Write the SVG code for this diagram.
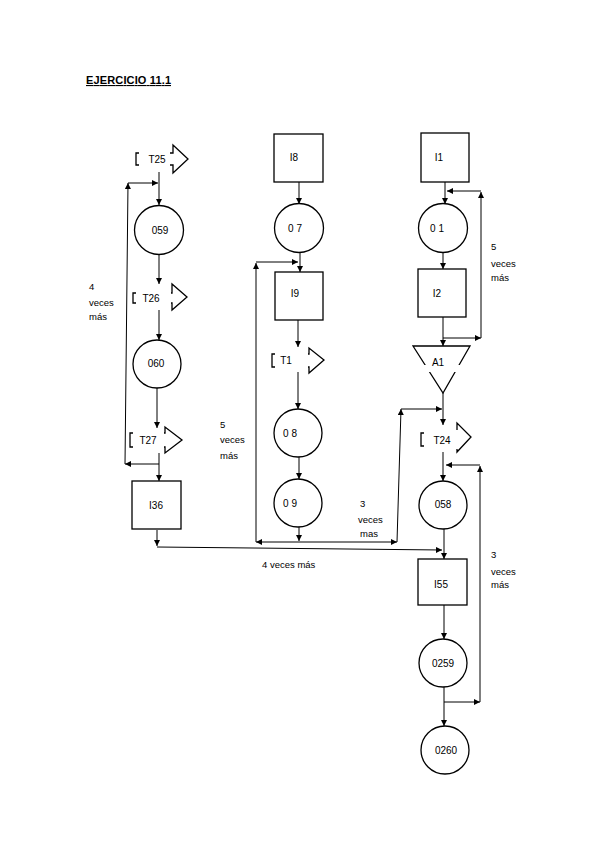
<svg xmlns="http://www.w3.org/2000/svg" width="599" height="848" viewBox="0 0 599 848">
<defs>
<marker id="ah" markerUnits="userSpaceOnUse" markerWidth="8" markerHeight="8" refX="6" refY="3" orient="auto">
<path d="M0,0 L6,3 L0,6 Z" fill="#000"/>
</marker>
<style>
.n{fill:#fff;stroke:#000;stroke-width:1.3}
.tb{fill:#fff;stroke:none}
.t{font-family:"Liberation Sans",Arial,sans-serif;font-size:10px;fill:#000;text-anchor:middle}
.l{font-family:"Liberation Sans",Arial,sans-serif;font-size:9.5px;fill:#000}
.c path{fill:none;stroke:#000;stroke-width:1;marker-end:url(#ah)}
</style>
</defs>
<rect width="599" height="848" fill="#fff"/>
<text x="86" y="84" font-family="Liberation Sans,Arial,sans-serif" font-size="11" font-weight="bold" text-decoration="underline" textLength="85">EJERCICIO 11.1</text>

<g class="c" id="connectors">
<path d="M159 172 V205"/>
<path d="M159 464 H125"/>
<path d="M125 464 L128 183"/>
<path d="M128 183 H158"/>
<path d="M159 255 V284"/>
<path d="M159 310 V340"/>
<path d="M157 388 V428"/>
<path d="M159 453 V481"/>
<path d="M157 530 V546"/>
<path d="M157 547 L442 550"/>
<path d="M299 182 V204"/>
<path d="M300 252 V272"/>
<path d="M299 542 H256"/>
<path d="M256 542 V263"/>
<path d="M256 262 H298"/>
<path d="M298 320 V347"/>
<path d="M298 372 V409"/>
<path d="M299 457 V479"/>
<path d="M299 527 V541"/>
<path d="M299 542 H397"/>
<path d="M397 542 L401 409"/>
<path d="M401 409 H442"/>
<path d="M445 182 V204"/>
<path d="M443 338 H481"/>
<path d="M481 338 V192"/>
<path d="M481 191 H447"/>
<path d="M443 252 V269"/>
<path d="M443 317 V346"/>
<path d="M443 393 V425"/>
<path d="M443 452 V481"/>
<path d="M444 702 H480"/>
<path d="M480 702 V466"/>
<path d="M480 465 H446"/>
<path d="M444 529 V559"/>
<path d="M444 605 V639"/>
<path d="M444 687 V726"/>
</g>

<g id="T25">
<polygon class="n" points="136,153 173,153 173,145 188,159 173,173 173,165 136,165"/>
<rect class="tb" x="139" y="150" width="31" height="18"/>
<text class="t" x="157" y="163">T25</text>
</g>
<g id="O59">
<circle class="n" cx="159" cy="230" r="24.5"/>
<text class="t" x="160" y="234">059</text>
</g>
<g id="T26">
<polygon class="n" points="133,293 172,293 172,284 187,297 172,310 172,303 133,303"/>
<rect class="tb" x="136" y="290" width="35" height="16"/>
<text class="t" x="151" y="302">T26</text>
</g>
<g id="O60">
<circle class="n" cx="157" cy="364" r="24"/>
<text class="t" x="156" y="367">060</text>
</g>
<g id="T27">
<polygon class="n" points="130,433 165,433 165,427 182,440 165,453 165,447 130,447"/>
<rect class="tb" x="133" y="430" width="31" height="20"/>
<text class="t" x="148" y="444">T27</text>
</g>
<g id="I36">
<rect class="n" x="132" y="481" width="49" height="48"/>
<text class="t" x="156" y="509">I36</text>
</g>

<g id="I8">
<rect class="n" x="274" y="134" width="49" height="48"/>
<text class="t" x="294" y="161">I8</text>
</g>
<g id="O7">
<circle class="n" cx="299" cy="228" r="24.5"/>
<text class="t" x="295" y="232">0 7</text>
</g>
<g id="I9">
<rect class="n" x="275" y="272" width="48" height="48"/>
<text class="t" x="295" y="297">I9</text>
</g>
<g id="T1">
<polygon class="n" points="272,354 309,354 309,348 324,360 309,373 309,367 272,367"/>
<rect class="tb" x="275" y="351" width="33" height="19"/>
<text class="t" x="286" y="364">T1</text>
</g>
<g id="O8">
<circle class="n" cx="298" cy="433" r="24"/>
<text class="t" x="290" y="437">0 8</text>
</g>
<g id="O9">
<circle class="n" cx="298" cy="503" r="24"/>
<text class="t" x="290" y="507">0 9</text>
</g>

<g id="I1">
<rect class="n" x="421" y="133" width="48" height="49"/>
<text class="t" x="439" y="161">I1</text>
</g>
<g id="O1">
<circle class="n" cx="443" cy="228" r="24.5"/>
<text class="t" x="437" y="232">0 1</text>
</g>
<g id="I2">
<rect class="n" x="418" y="269" width="48" height="48"/>
<text class="t" x="437" y="297">I2</text>
</g>
<g id="A1">
<polygon class="n" points="413,346 470,346 443,393"/>
<rect class="tb" x="418" y="365" width="50" height="7"/>
<text class="t" x="438" y="366">A1</text>
</g>
<g id="T24">
<polygon class="n" points="421,433 457,433 457,423 471,437 457,452 457,446 421,446"/>
<rect class="tb" x="424" y="430" width="35" height="19"/>
<text class="t" x="442" y="444">T24</text>
</g>
<g id="O58">
<circle class="n" cx="443" cy="505" r="24"/>
<text class="t" x="443" y="508">058</text>
</g>
<g id="I55">
<rect class="n" x="418" y="559" width="49" height="46"/>
<text class="t" x="441" y="588">I55</text>
</g>
<g id="O259">
<circle class="n" cx="443" cy="663" r="24"/>
<text class="t" x="443" y="667">0259</text>
</g>
<g id="O260">
<circle class="n" cx="445" cy="750" r="24"/>
<text class="t" x="446" y="754">0260</text>
</g>

<g id="labels">
<text class="l" x="89" y="290">4</text>
<text class="l" x="89" y="306">veces</text>
<text class="l" x="89" y="320">más</text>
<text class="l" x="220" y="428">5</text>
<text class="l" x="220" y="443">veces</text>
<text class="l" x="220" y="459">más</text>
<text class="l" x="360" y="507">3</text>
<text class="l" x="358" y="523">veces</text>
<text class="l" x="360" y="537">mas</text>
<text class="l" x="491" y="250">5</text>
<text class="l" x="491" y="267">veces</text>
<text class="l" x="491" y="281">más</text>
<text class="l" x="491" y="558">3</text>
<text class="l" x="491" y="575">veces</text>
<text class="l" x="491" y="588">más</text>
<text class="l" x="262" y="568">4 veces más</text>
</g>
</svg>
